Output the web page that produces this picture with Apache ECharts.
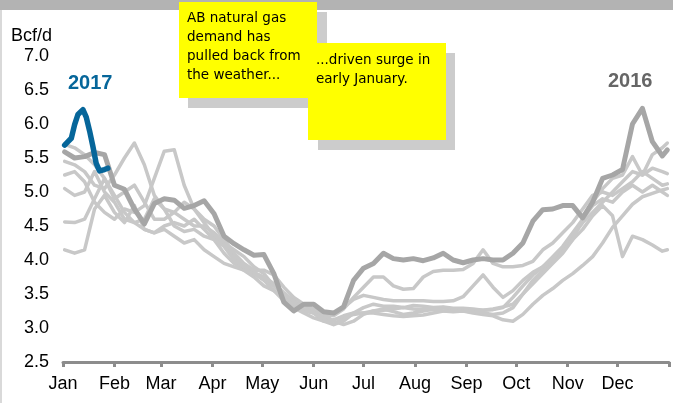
<!DOCTYPE html>
<html>
<head>
<meta charset="utf-8">
<script src="https://cdn.jsdelivr.net/npm/echarts@6/dist/echarts.min.js"></script>
<style>
  html, body { margin: 0; padding: 0; background: #fff; }
  #chart { width: 673px; height: 403px; }
</style>
</head>
<body>
<div id="chart"></div>
<script>
// Alberta daily natural gas demand, Bcf/d, by day of year

// sampling days shared by the historical years and 2016
const days = [1, 7, 13, 19, 25, 31, 37, 43, 49, 55, 61, 67, 73, 79, 85, 91, 97, 103, 109, 115,
  121, 127, 133, 139, 145, 151, 157, 163, 169, 175, 181, 187, 193, 199, 205, 211, 217, 223, 229, 235,
  241, 247, 253, 259, 265, 271, 277, 283, 289, 295, 301, 307, 313, 319, 325, 331, 337, 343, 349, 355,
  361, 364];

// earlier years (light grey)
const yearA = [4.15, 4.10, 4.15, 4.75, 4.95, 4.70, 4.55, 4.80, 4.45, 4.40, 4.45, 4.35, 4.25, 4.30, 4.15, 4.05, 3.95, 3.90, 3.85, 3.75,
  3.62, 3.55, 3.45, 3.35, 3.25, 3.22, 3.10, 3.05, 3.15, 3.20, 3.22, 3.25, 3.28, 3.24, 3.20, 3.22, 3.25, 3.28, 3.30, 3.28,
  3.25, 3.22, 3.20, 3.18, 3.12, 3.10, 3.20, 3.35, 3.48, 3.58, 3.70, 3.80, 3.92, 4.05, 4.25, 4.48, 4.65, 4.82, 4.93, 4.98,
  5.03, 5.05];
const yearB = [4.56, 4.55, 4.60, 4.90, 5.20, 4.95, 4.70, 4.55, 4.60, 4.90, 4.75, 4.50, 4.42, 4.45, 4.35, 4.30, 4.10, 3.95, 3.85, 3.80,
  3.70, 3.55, 3.40, 3.30, 3.22, 3.15, 3.10, 3.12, 3.18, 3.22, 3.22, 3.22, 3.20, 3.18, 3.17, 3.18, 3.19, 3.22, 3.25, 3.26,
  3.25, 3.27, 3.26, 3.27, 3.30, 3.45, 3.62, 3.78, 3.90, 4.00, 4.15, 4.30, 4.45, 4.65, 4.80, 4.65, 4.05, 4.35, 4.30, 4.22,
  4.13, 4.15];
const yearC = [5.45, 5.40, 5.30, 5.10, 5.05, 5.25, 5.50, 5.72, 5.40, 4.95, 4.75, 4.70, 4.60, 4.50, 4.50, 4.40, 4.25, 4.05, 3.90, 3.80,
  3.72, 3.62, 3.48, 3.38, 3.30, 3.25, 3.20, 3.18, 3.28, 3.45, 3.60, 3.75, 3.75, 3.62, 3.57, 3.58, 3.75, 3.83, 3.85, 3.85,
  3.86, 3.95, 4.15, 3.95, 3.90, 3.90, 3.92, 3.98, 4.15, 4.25, 4.40, 4.55, 4.75, 4.95, 5.00, 4.95, 5.05, 5.15, 5.30, 5.20,
  5.10, 5.12];
const yearD = [5.25, 5.30, 5.15, 4.85, 4.70, 4.60, 4.75, 4.70, 4.80, 5.20, 5.60, 5.62, 5.10, 4.75, 4.55, 4.35, 4.25, 4.15, 4.05, 3.90,
  3.80, 3.62, 3.50, 3.35, 3.30, 3.22, 3.15, 3.05, 3.10, 3.22, 3.30, 3.35, 3.32, 3.32, 3.30, 3.33, 3.32, 3.30, 3.31, 3.29,
  3.29, 3.28, 3.26, 3.28, 3.31, 3.35, 3.50, 3.70, 3.85, 4.00, 4.15, 4.35, 4.55, 4.70, 4.85, 5.00, 5.15, 5.30, 5.25, 5.35,
  5.30, 5.27];
const yearE = [5.05, 4.95, 5.00, 5.30, 5.00, 4.85, 4.60, 4.55, 4.45, 4.40, 4.50, 4.55, 4.50, 4.60, 4.45, 4.30, 4.20, 4.00, 3.90, 3.82,
  3.75, 3.65, 3.52, 3.40, 3.30, 3.22, 3.15, 3.20, 3.30, 3.42, 3.48, 3.45, 3.42, 3.40, 3.40, 3.40, 3.40, 3.39, 3.39, 3.40,
  3.46, 3.62, 3.78, 3.60, 3.45, 3.55, 3.70, 3.82, 3.90, 4.05, 4.20, 4.40, 4.60, 4.80, 4.90, 4.85, 5.00, 5.10, 5.00, 5.10,
  5.00, 4.95];
const yearF = [5.70, 5.65, 5.55, 5.40, 5.20, 4.90, 5.00, 5.10, 4.85, 4.60, 4.60, 4.70, 4.85, 4.75, 4.60, 4.50, 4.30, 4.10, 3.95, 3.85,
  3.85, 3.78, 3.60, 3.45, 3.35, 3.28, 3.20, 3.10, 3.05, 3.10, 3.20, 3.25, 3.26, 3.28, 3.30, 3.28, 3.27, 3.27, 3.25, 3.24,
  3.25, 3.24, 3.22, 3.20, 3.22, 3.30, 3.50, 3.65, 3.80, 3.95, 4.10, 4.30, 4.60, 4.85, 5.05, 5.20, 5.25, 5.52, 5.25, 5.55,
  5.65, 5.72];

// 2016 (dark grey)
const year2016 = [5.59, 5.50, 5.52, 5.58, 5.55, 5.10, 5.04, 4.75, 4.53, 4.83, 4.90, 4.88, 4.76, 4.80, 4.87, 4.68, 4.35, 4.24, 4.15, 4.07,
  4.08, 3.80, 3.38, 3.25, 3.35, 3.35, 3.24, 3.22, 3.31, 3.70, 3.88, 3.95, 4.10, 4.02, 4.00, 4.02, 3.99, 4.03, 4.10, 4.00,
  3.96, 4.00, 4.02, 4.00, 4.00, 4.10, 4.25, 4.57, 4.74, 4.75, 4.80, 4.80, 4.62, 4.85, 5.20, 5.25, 5.33, 6.00, 6.23, 5.74,
  5.53, 5.62];

// 2017 to date (blue)
const days2017 = [1, 3, 5, 7, 9, 12, 14, 16, 18, 20, 22, 25, 27];
const year2017 = [5.69, 5.74, 5.79, 5.99, 6.14, 6.21, 6.10, 5.90, 5.67, 5.42, 5.31, 5.33, 5.35];

// x axis: first day of each month
const monthStarts = [0, 31, 59, 90, 120, 151, 181, 212, 243, 273, 304, 334];
const monthNames = ['Jan', 'Feb', 'Mar', 'Apr', 'May', 'Jun', 'Jul', 'Aug', 'Sep', 'Oct', 'Nov', 'Dec'];
const yearEnd = 365;

const pair = (xs, ys) => xs.map((d, i) => [d, ys[i]]);

const greyYears = [yearA, yearB, yearC, yearD, yearE, yearF];
const series = greyYears.map(vals => ({
  type: 'line',
  data: pair(days, vals),
  showSymbol: false,
  silent: true,
  lineStyle: { color: '#c8c8c8', width: 3.5, join: 'round', cap: 'round' },
  z: 2
}));
series.push({
  type: 'line', name: '2016',
  data: pair(days, year2016),
  showSymbol: false, silent: true,
  lineStyle: { color: '#a6a6a6', width: 5, join: 'round', cap: 'round' },
  z: 3
});
series.push({
  type: 'line', name: '2017',
  data: pair(days2017, year2017),
  showSymbol: false, silent: true,
  lineStyle: { color: '#06669a', width: 5.5, cap: 'round', join: 'round' },
  z: 4
});

const axisFont = '"Liberation Sans", Arial, sans-serif';
const noteFont = '"Comic Sans MS", "DejaVu Sans", sans-serif';

const chart = echarts.init(document.getElementById('chart'), null, { renderer: 'canvas' });
chart.setOption({
  animation: false,
  backgroundColor: '#ffffff',
  grid: { left: 63, right: 4, top: 56, bottom: 41 },
  xAxis: {
    type: 'value',
    min: 0,
    max: yearEnd,
    splitLine: { show: false },
    axisLine: { show: true, lineStyle: { color: '#8c8c8c', width: 3 } },
    axisTick: {
      show: true, length: 5,
      customValues: monthStarts.concat([yearEnd]),
      lineStyle: { color: '#8c8c8c', width: 3 }
    },
    axisLabel: {
      customValues: monthStarts,
      formatter: v => monthNames[monthStarts.indexOf(v)] || '',
      color: '#000', fontSize: 18, fontFamily: axisFont,
      margin: 13
    }
  },
  yAxis: {
    type: 'value',
    min: 2.5, max: 7.0, interval: 0.5,
    splitLine: { show: false },
    axisLine: { show: false },
    axisTick: { show: false },
    axisLabel: {
      formatter: v => v.toFixed(1),
      color: '#000', fontSize: 18, fontFamily: axisFont,
      margin: 14
    }
  },
  series: series,
  graphic: [
    // frame
    { type: 'rect', shape: { x: 0, y: 0, width: 673, height: 10 }, style: { fill: '#b3b3b3' }, z: 0 },
    { type: 'rect', shape: { x: 0, y: 10, width: 2, height: 393 }, style: { fill: '#d9d9d9' }, z: 0 },
    // axis unit
    { type: 'text', left: 11, top: 27, style: { text: 'Bcf/d', fontSize: 18, fill: '#000', fontFamily: axisFont } },
    // year labels
    { type: 'text', left: 68, top: 73, style: { text: '2017', fontSize: 20, fontWeight: 'bold', fill: '#06669a', fontFamily: axisFont }, z: 10 },
    { type: 'text', left: 608, top: 71, style: { text: '2016', fontSize: 20, fontWeight: 'bold', fill: '#666666', fontFamily: axisFont }, z: 10 },
    // first note with shadow
    { type: 'rect', shape: { x: 188, y: 12, width: 139, height: 96 }, style: { fill: '#cccccc' }, z: 20 },
    { type: 'rect', shape: { x: 179, y: 2, width: 138, height: 96 }, style: { fill: '#ffff00' }, z: 21 },
    { type: 'text', left: 187, top: 9, z: 22,
      style: { text: 'AB natural gas\ndemand has\npulled back from\nthe weather...', fontSize: 13.5, lineHeight: 19, fill: '#000', fontFamily: noteFont } },
    // second note with shadow
    { type: 'rect', shape: { x: 318, y: 53, width: 137, height: 97 }, style: { fill: '#cccccc' }, z: 23 },
    { type: 'rect', shape: { x: 308, y: 43, width: 138, height: 97 }, style: { fill: '#ffff00' }, z: 24 },
    { type: 'text', left: 316, top: 51, z: 25,
      style: { text: '...driven surge in\nearly January.', fontSize: 13.5, lineHeight: 19, fill: '#000', fontFamily: noteFont } }
  ]
});
</script>
</body>
</html>
